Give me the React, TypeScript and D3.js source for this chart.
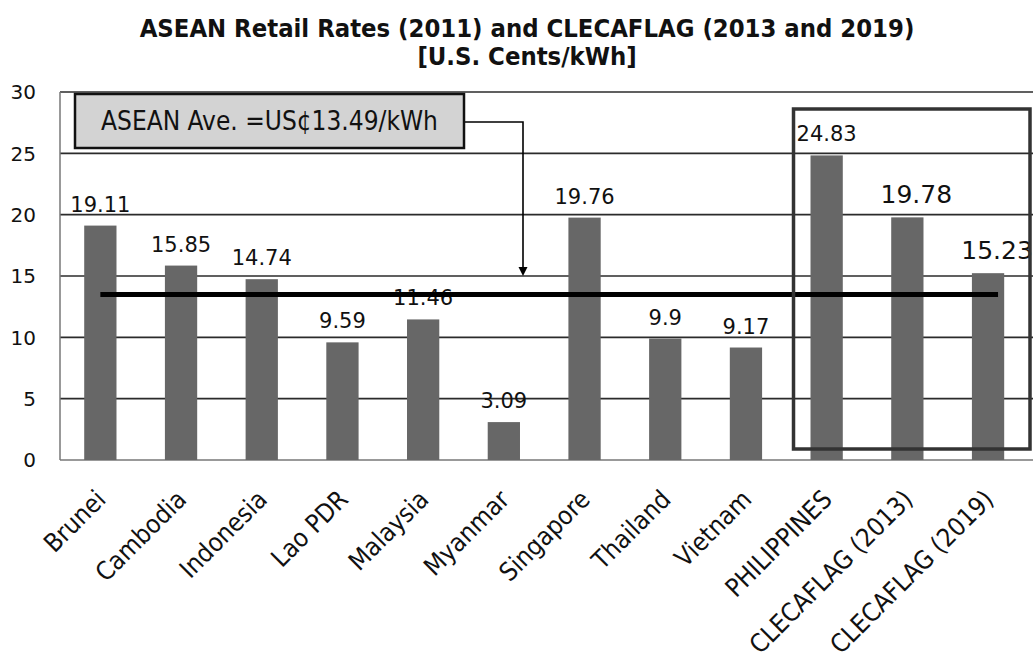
import React from "react";
import * as d3 from "d3";

// Retail electricity rates, U.S. cents per kWh
const categories = [
  "Brunei",
  "Cambodia",
  "Indonesia",
  "Lao PDR",
  "Malaysia",
  "Myanmar",
  "Singapore",
  "Thailand",
  "Vietnam",
  "PHILIPPINES",
  "CLECAFLAG (2013)",
  "CLECAFLAG (2019)",
];
const rates = [19.11, 15.85, 14.74, 9.59, 11.46, 3.09, 19.76, 9.9, 9.17, 24.83, 19.78, 15.23];
const aseanAverage = 13.49;
const yTicks = [0, 5, 10, 15, 20, 25, 30];
const titleLines = [
  "ASEAN Retail Rates (2011) and CLECAFLAG (2013 and 2019)",
  "[U.S. Cents/kWh]",
];
const averageNote = "ASEAN Ave. =US\u00a213.49/kWh";
// categories whose value labels are drawn larger
const emphasised = ["CLECAFLAG (2013)", "CLECAFLAG (2019)"];

const W = 1033;
const H = 664;
const plot = { left: 60, right: 1028.4, top: 92, bottom: 460 };

const SANS = "'DejaVu Sans', Verdana, sans-serif";
const COND = "'DejaVu Sans Condensed', 'DejaVu Sans', Tahoma, sans-serif";

export default function App() {
  const x = d3
    .scaleBand<string>()
    .domain(categories)
    .range([plot.left, plot.right])
    .paddingInner(0.6)
    .paddingOuter(0.3);
  const y = d3.scaleLinear().domain([0, 30]).range([plot.bottom, plot.top]);
  const cx = (c: string) => (x(c) as number) + x.bandwidth() / 2;

  const avgY = y(aseanAverage);
  const avgX0 = cx(categories[0]);
  const avgX1 = cx(categories[categories.length - 1]) + 10;

  // note box and its leader arrow
  const note = { x: 75, y: 94, w: 389, h: 54 };
  const leaderX = 523;
  const leaderY = note.y + 28;
  const arrowTip = y(15);

  // frame around the Philippine figures
  const frameX0 = (x("PHILIPPINES") as number) - 17;
  const frame = { x0: frameX0, x1: 1030, y0: 109, y1: 449 };

  return (
    <svg
      width={W}
      height={H}
      style={{ position: "absolute", left: 0, top: 0, background: "#fff" }}
    >
      <rect x={0} y={0} width={W} height={H} fill="#fff" />

      {/* title */}
      {titleLines.map((t, i) => (
        <text
          key={t}
          x={527}
          y={37 + i * 28}
          textAnchor="middle"
          fontFamily={COND}
          fontWeight="bold"
          fontSize={25.4}
          fill="#111"
        >
          {t}
        </text>
      ))}

      {/* gridlines */}
      {yTicks.slice(1).map((t) => (
        <line
          key={t}
          x1={plot.left}
          x2={W}
          y1={y(t)}
          y2={y(t)}
          stroke="#2b2b2b"
          strokeWidth={1.6}
        />
      ))}
      {/* axes */}
      <line x1={plot.left} x2={plot.left} y1={plot.top} y2={plot.bottom} stroke="#777" strokeWidth={1.5} />
      <line x1={plot.left} x2={W} y1={plot.bottom} y2={plot.bottom} stroke="#777" strokeWidth={1.5} />

      {/* y tick labels */}
      {yTicks.map((t) => (
        <text
          key={t}
          x={36}
          y={y(t)}
          dy="0.36em"
          textAnchor="end"
          fontFamily={SANS}
          fontSize={20}
          fill="#111"
        >
          {t}
        </text>
      ))}

      {/* bars */}
      {categories.map((c, i) => (
        <rect
          key={c}
          x={x(c)}
          y={y(rates[i])}
          width={x.bandwidth()}
          height={y(0) - y(rates[i])}
          fill="#676767"
        />
      ))}

      {/* value labels */}
      {categories.map((c, i) => {
        const big = emphasised.includes(c);
        return (
          <text
            key={c}
            x={cx(c) + (big ? 9 : 0)}
            y={y(rates[i]) - 14}
            textAnchor="middle"
            fontFamily={SANS}
            fontSize={big ? 25 : 21}
            fill="#111"
          >
            {String(rates[i])}
          </text>
        );
      })}

      {/* average line */}
      <line x1={avgX0} x2={avgX1} y1={avgY} y2={avgY} stroke="#000" strokeWidth={5} />

      {/* frame */}
      <rect
        x={frame.x0}
        y={frame.y0}
        width={frame.x1 - frame.x0}
        height={frame.y1 - frame.y0}
        fill="none"
        stroke="#333"
        strokeWidth={3.5}
      />

      {/* note and leader */}
      <polyline
        points={`${note.x + note.w},${leaderY} ${leaderX},${leaderY} ${leaderX},${arrowTip - 8}`}
        fill="none"
        stroke="#000"
        strokeWidth={1.6}
      />
      <path
        d={`M${leaderX - 4.5},${arrowTip - 9} L${leaderX + 4.5},${arrowTip - 9} L${leaderX},${arrowTip} Z`}
        fill="#000"
      />
      <rect
        x={note.x}
        y={note.y}
        width={note.w}
        height={note.h}
        fill="#d3d3d3"
        stroke="#111"
        strokeWidth={2.5}
      />
      <text
        x={note.x + note.w / 2}
        y={note.y + 36}
        textAnchor="middle"
        fontFamily={COND}
        fontSize={26}
        fill="#111"
      >
        {averageNote}
      </text>

      {/* category labels */}
      {categories.map((c) => (
        <text
          key={c}
          transform={`translate(${cx(c) + 7},${plot.bottom + 41}) rotate(-45)`}
          textAnchor="end"
          fontFamily={COND}
          fontSize={25.5}
          fill="#111"
        >
          {c}
        </text>
      ))}
    </svg>
  );
}
